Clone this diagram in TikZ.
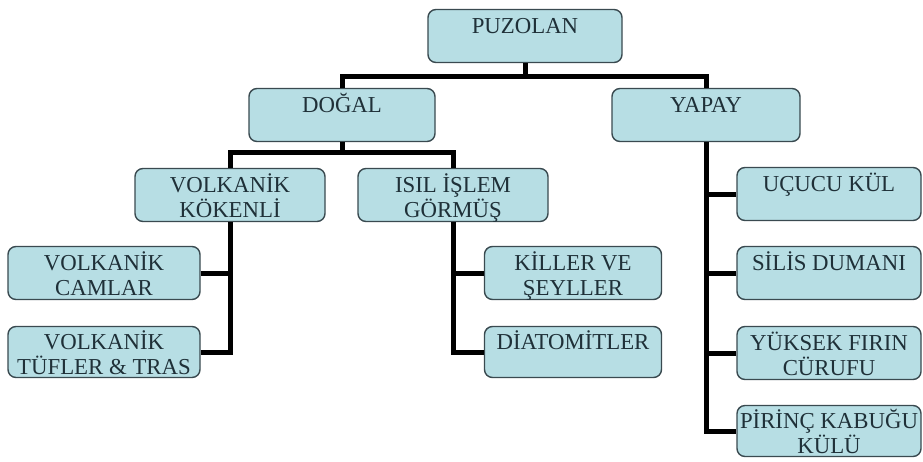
\documentclass[tikz,border=0pt]{standalone}
\usepackage{fontspec}
\setmainfont{Liberation Serif}
\definecolor{boxfill}{HTML}{B7DEE4}
\definecolor{boxline}{HTML}{3A4A50}
\definecolor{boxtext}{HTML}{1F3038}
\newcommand\tst{\rule[-3pt]{0pt}{25pt}}
\newcommand\lineof[1]{\smash{#1}\tst}
\begin{document}
\begin{tikzpicture}[x=1pt,y=-1pt,
  box/.style={rectangle, rounded corners=8pt, draw=boxline, line width=1.4pt,
    fill=boxfill, text=boxtext, align=center, inner sep=0pt,
    font=\fontsize{22.8}{25}\selectfont, minimum height=53pt},
  conn/.style={line width=5pt, black}
]
\useasboundingbox (0,0) rectangle (923,461);
\fill[white] (0,0) rectangle (923,461);

\node[box, minimum width=194pt] (puz) at (525,36) {\lineof{PUZOLAN}\\\tst};
\node[box, minimum width=186pt] (dogal) at (342,115) {\lineof{DOĞAL}\\\tst};
\node[box, minimum width=188pt] (yapay) at (706,115) {\lineof{YAPAY}\\\tst};
\node[box, minimum width=190pt] (vk) at (230,195) {\lineof{VOLKANİK}\\\lineof{KÖKENLİ}};
\node[box, minimum width=190pt] (isil) at (453,195) {\lineof{ISIL İŞLEM}\\\lineof{GÖRMÜŞ}};
\node[box, minimum width=192pt] (vc) at (104,273) {\lineof{VOLKANİK}\\\lineof{CAMLAR}};
\node[box, minimum width=192pt, minimum height=51pt] (vt) at (104,352) {\lineof{VOLKANİK}\\\lineof{TÜFLER \& TRAS}};
\node[box, minimum width=177pt] (kil) at (573,273) {\lineof{KİLLER VE}\\\lineof{ŞEYLLER}};
\node[box, minimum width=177pt, minimum height=51pt] (dia) at (573,352) {\lineof{DİATOMİTLER}\\\tst};
\node[box, minimum width=184pt] (ucu) at (829,194) {\lineof{UÇUCU KÜL}\\\tst};
\node[box, minimum width=184pt] (sil) at (829,273) {\lineof{SİLİS DUMANI}\\\tst};
\node[box, minimum width=184pt] (yuk) at (829,353) {\lineof{YÜKSEK FIRIN}\\\lineof{CÜRUFU}};
\node[box, minimum width=184pt, minimum height=51pt] (pir) at (829,431) {\lineof{PİRİNÇ KABUĞU}\\\lineof{KÜLÜ}};

% connectors
\draw[conn] (puz.south) -- ++(0,13) coordinate (j1);
\draw[conn] (dogal.north) |- (j1) -| (yapay.north);
\draw[conn] (dogal.south) -- ++(0,10) coordinate (j2);
\draw[conn] (vk.north) |- (j2) -| (isil.north);

\draw[conn] (vk.south) |- (vt.east);
\draw[conn] (vc.east) -| (vk.south);

\draw[conn] (isil.south) |- (dia.west);
\draw[conn] (kil.west) -| (isil.south);

\draw[conn] (yapay.south) |- (pir.west);
\draw[conn] (ucu.west) -| (yapay.south);
\draw[conn] (sil.west) -| (yapay.south);
\draw[conn] (yuk.west) -| (yapay.south);
\end{tikzpicture}
\end{document}
